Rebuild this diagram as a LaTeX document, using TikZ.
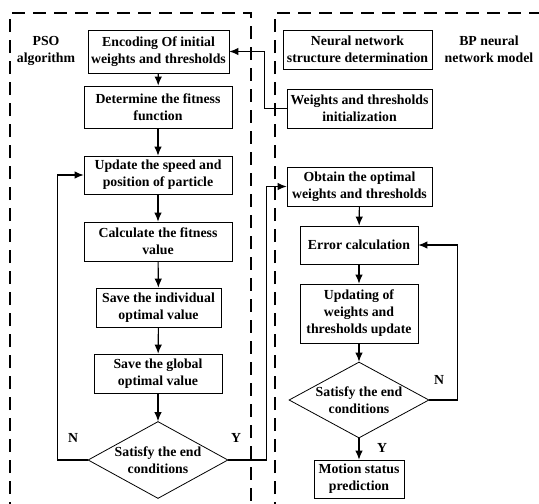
\documentclass[tikz,border=0pt]{standalone}
\usepackage{fontspec}
\setmainfont{Liberation Serif}
\usetikzlibrary{shapes.geometric,arrows.meta}

\begin{document}
\begin{tikzpicture}[x=1pt,y=-1pt,line width=1.1pt,
  box/.style={draw,line width=0.8pt,align=center,inner sep=0pt,font=\fontsize{13.8}{17}\selectfont\bfseries},
  cond/.style={draw,line width=0.8pt,diamond,aspect=1.8,align=center,inner sep=0pt,font=\fontsize{13.8}{17}\selectfont\bfseries},
  tag/.style={align=center,inner sep=0pt,font=\fontsize{13.8}{17}\selectfont\bfseries},
  frame/.style={line width=1.6pt,dash pattern=on 13pt off 8pt}]
\useasboundingbox (0,0) rectangle (539,504);
\clip (0,0) rectangle (539,504);

\draw [frame] (10,515) -- (10,13) -- (251,13) -- (251,515);
\draw [frame] (275,515) -- (275,13) -- (545,13);

\node[tag] (pso) at (46,51) {PSO\\algorithm};
\node[tag] (bp) at (489,49) {BP neural\\network model};

\node[box,minimum width=141pt,minimum height=43pt] (enc) at (158.5,51.5) {Encoding Of initial\\weights and thresholds};
\node[box,minimum width=148pt,minimum height=42pt] (fit) at (158,107) {Determine the fitness\\function};
\node[box,minimum width=148pt,minimum height=38pt] (upd) at (158,175) {Update the speed and\\position of particle};
\node[box,minimum width=148pt,minimum height=39pt] (calc) at (158,241.5) {Calculate the fitness\\value};
\node[box,minimum width=125pt,minimum height=39pt] (ind) at (158.5,307.5) {Save the individual\\optimal value};
\node[box,minimum width=128pt,minimum height=39pt] (glob) at (158,373.5) {Save the global\\optimal value};
\node[cond,minimum width=140pt,minimum height=77pt] (end1) at (158,460) {Satisfy the end\\conditions};

\node[box,minimum width=149pt,minimum height=39pt] (nns) at (357.5,49.5) {Neural network\\structure determination};
\node[box,minimum width=145pt,minimum height=39pt] (wti) at (359.5,108.5) {Weights and thresholds\\initialization};
\node[box,minimum width=145pt,minimum height=39pt] (obt) at (359.5,186.5) {Obtain the optimal\\weights and thresholds};
\node[box,minimum width=118pt,minimum height=38pt] (err) at (359,245) {Error calculation};
\node[box,minimum width=118pt,minimum height=59pt] (upw) at (359,313.5) {Updating of\\weights and\\thresholds update};
\node[cond,minimum width=140pt,minimum height=76pt] (end2) at (359,400) {Satisfy the end\\conditions};
\node[box,minimum width=90pt,minimum height=38pt] (mot) at (359,479) {Motion status\\prediction};

\draw [-{Latex[length=9pt,width=7.5pt]}] (enc) -- (fit);
\draw [-{Latex[length=9pt,width=7.5pt]}] (fit) -- (upd);
\draw [-{Latex[length=9pt,width=7.5pt]}] (upd) -- (calc);
\draw [-{Latex[length=9pt,width=7.5pt]}] (calc) -- (ind);
\draw [-{Latex[length=9pt,width=7.5pt]}] (ind) -- (glob);
\draw [-{Latex[length=9pt,width=7.5pt]}] (glob) -- (end1);
\draw [-{Latex[length=9pt,width=7.5pt]}] (end1.west) -- ++(-30,0) |- (upd.west);
\draw [-{Latex[length=9pt,width=7.5pt]}] (end1.east) -- ++(38,0) |- (obt.west);
\draw [-{Latex[length=9pt,width=7.5pt]}] (wti.west) -- ++(-22,0) |- (enc.east);

\draw [-{Latex[length=9pt,width=7.5pt]}] (obt) -- (err);
\draw [-{Latex[length=9pt,width=7.5pt]}] (err) -- (upw);
\draw [-{Latex[length=9pt,width=7.5pt]}] (upw) -- (end2);
\draw [-{Latex[length=9pt,width=7.5pt]}] (end2) -- (mot);
\draw [-{Latex[length=9pt,width=7.5pt]}] (end2.east) -- ++(28,0) |- (err.east);

\node[tag] (n1) at (73,438) {N};
\node[tag] (y1) at (236,438) {Y};
\node[tag] (n2) at (439,380) {N};
\node[tag] (y2) at (382,448) {Y};

\end{tikzpicture}
\end{document}
